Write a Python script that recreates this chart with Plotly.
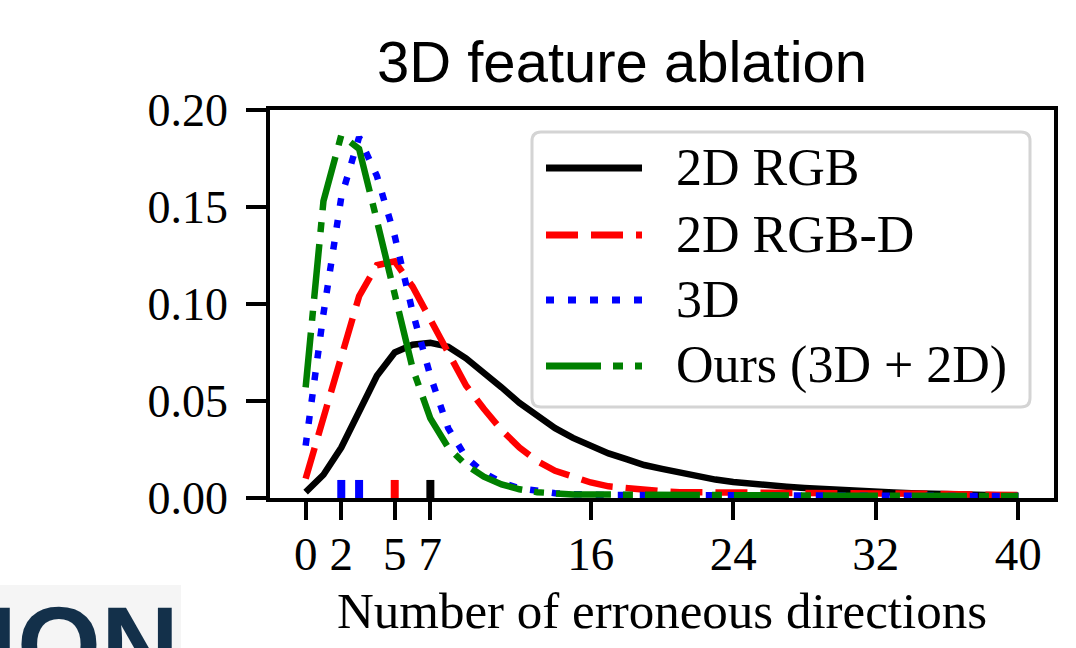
import plotly.graph_objects as go

# ---------------- data ----------------
x_vals = list(range(41))

rgb_2d = [0.003, 0.012, 0.026, 0.045, 0.063, 0.075, 0.079, 0.080, 0.078, 0.072,
          0.065, 0.057, 0.049, 0.042, 0.036, 0.031, 0.027, 0.023, 0.020, 0.017,
          0.015, 0.013, 0.011, 0.0095, 0.0082, 0.0072, 0.0064, 0.0058, 0.0052, 0.0046,
          0.0041, 0.0036, 0.0032, 0.0028, 0.0025, 0.0022, 0.0019, 0.0017, 0.0015, 0.0013,
          0.0012]

rgbd_2d = [0.010, 0.042, 0.075, 0.104, 0.120, 0.122, 0.109, 0.092, 0.074, 0.058,
           0.046, 0.035, 0.026, 0.019, 0.014, 0.011, 0.008, 0.006, 0.005, 0.004,
           0.0035, 0.003, 0.003, 0.003, 0.003, 0.003, 0.003, 0.003, 0.003, 0.003,
           0.003, 0.0028, 0.0026, 0.0025, 0.0024, 0.0022, 0.002, 0.0019, 0.0018, 0.0016,
           0.0015]

feat_3d = [0.027, 0.095, 0.155, 0.186, 0.166, 0.135, 0.096, 0.063, 0.036, 0.021,
           0.013, 0.008, 0.005, 0.0035, 0.0025, 0.002, 0.0015, 0.0015, 0.0015, 0.0015,
           0.0015, 0.0015, 0.0014, 0.0014, 0.0014, 0.0013, 0.0013, 0.0013, 0.0012, 0.0012,
           0.0012, 0.0012, 0.0011, 0.0011, 0.0011, 0.0011, 0.001, 0.001, 0.001, 0.001,
           0.001]

ours = [0.057, 0.153, 0.187, 0.180, 0.143, 0.105, 0.067, 0.041, 0.026, 0.017,
        0.011, 0.007, 0.0045, 0.003, 0.0022, 0.0018, 0.0018, 0.0017, 0.0017, 0.0016,
        0.0016, 0.0015, 0.0015, 0.0015, 0.0014, 0.0014, 0.0014, 0.0013, 0.0013, 0.0013,
        0.0012, 0.0012, 0.0012, 0.0011, 0.0011, 0.0011, 0.001, 0.001, 0.001, 0.001,
        0.001]

series_names = ["2D RGB", "2D RGB-D", "3D", "Ours (3D + 2D)"]
series_values = [rgb_2d, rgbd_2d, feat_3d, ours]

median_x = [2, 3, 5, 7]
median_height = 0.0093

x_ticks = [0, 2, 5, 7, 16, 24, 32, 40]
y_ticks = [0.0, 0.05, 0.10, 0.15, 0.20]
y_ticktext = ["0.00", "0.05", "0.10", "0.15", "0.20"]

title_text = "3D feature ablation"
x_title = "Number of erroneous directions"
corner_text = "ION"

# ---------------- styles ----------------
colors = ["#000000", "#ff0000", "#0000ff", "#008000"]
dashes = ["solid", "32px,13px", "8px,14px", "55px,12px,10px,12px"]
median_colors = ["#0000ff", "#0000ff", "#ff0000", "#000000"]
SERIF = "Liberation Serif, Times New Roman, serif"
SANS = "Liberation Sans, Arial, sans-serif"

W, H = 1076, 648
L, R, T, B = 270, 1054, 110, 498  # plot area in pixels


def px(xpix):
    return (xpix - L) / (R - L)


def py(ypix):
    return (B - ypix) / (B - T)


fig = go.Figure()

for name, vals, c, d in zip(series_names, series_values, colors, dashes):
    fig.add_trace(go.Scatter(x=x_vals, y=vals, mode="lines", name=name,
                             line=dict(color=c, width=6.5, dash=d),
                             showlegend=False, hoverinfo="skip"))

for mx, mc in zip(median_x, median_colors):
    fig.add_trace(go.Scatter(x=[mx, mx], y=[0, median_height], mode="lines",
                             line=dict(color=mc, width=8), showlegend=False,
                             hoverinfo="skip"))

shapes = []
annotations = []

# legend box (rounded)
bx0, bx1, by0, by1 = 532, 1030, 132, 407
r = 9
rx = r / (R - L)
ry = r / (B - T)
X0, X1, Y0, Y1 = px(bx0), px(bx1), py(by1), py(by0)
path = (f"M{X0+rx},{Y0} L{X1-rx},{Y0} Q{X1},{Y0} {X1},{Y0+ry} "
        f"L{X1},{Y1-ry} Q{X1},{Y1} {X1-rx},{Y1} L{X0+rx},{Y1} "
        f"Q{X0},{Y1} {X0},{Y1-ry} L{X0},{Y0+ry} Q{X0},{Y0} {X0+rx},{Y0} Z")
shapes.append(dict(type="path", xref="paper", yref="paper", path=path,
                   fillcolor="rgba(255,255,255,0.85)",
                   line=dict(color="#d4d4d4", width=3), layer="above"))

row_y = [168, 235, 300, 366]
for name, c, d, ry_ in zip(series_names, colors, dashes, row_y):
    shapes.append(dict(type="line", xref="paper", yref="paper",
                       x0=px(546), x1=px(642), y0=py(ry_), y1=py(ry_),
                       line=dict(color=c, width=7, dash=d), layer="above"))
    annotations.append(dict(x=px(674), y=py(ry_ - 1), xref="paper", yref="paper",
                            text=name, showarrow=False, xanchor="left",
                            yanchor="middle",
                            font=dict(family=SERIF, size=52, color="black")))

# title
annotations.append(dict(x=px(622), y=py(61), xref="paper", yref="paper",
                        text=title_text, showarrow=False, xanchor="center",
                        yanchor="middle",
                        font=dict(family=SANS, size=58, color="black")))

# corner logo fragment
shapes.append(dict(type="rect", xref="paper", yref="paper",
                   x0=px(-5), x1=px(181), y0=py(660), y1=py(585),
                   fillcolor="#f5f5f5", line=dict(width=0), layer="below"))
annotations.append(dict(x=px(181), y=py(582), xref="paper", yref="paper",
                        text=f"<b>{corner_text}</b>", showarrow=False,
                        xanchor="right", yanchor="top",
                        font=dict(family=SANS, size=108, color="#13304a")))

fig.update_layout(
    width=W, height=H,
    margin=dict(l=L, r=W - R, t=T, b=H - B, pad=0),
    paper_bgcolor="white", plot_bgcolor="white",
    shapes=shapes, annotations=annotations,
    xaxis=dict(range=[-2, 42], tickvals=x_ticks, ticks="outside", ticklen=18,
               tickwidth=3.5, tickcolor="black", showline=True, linewidth=3.5,
               linecolor="black", mirror=True, showgrid=False, zeroline=False,
               ticklabelstandoff=-6,
               tickfont=dict(family=SERIF, size=47, color="black"),
               title=dict(text=x_title, standoff=14,
                          font=dict(family=SERIF, size=51, color="black"))),
    yaxis=dict(range=[0, 0.2], tickvals=y_ticks, ticktext=y_ticktext,
               ticks="outside", ticklen=20, tickwidth=3.5, tickcolor="black",
               showline=True, linewidth=3.5, linecolor="black", mirror=True,
               showgrid=False, zeroline=False, ticklabelstandoff=9,
               tickfont=dict(family=SERIF, size=46, color="black")),
)

fig.write_html("out.html", config={"displayModeBar": False},
               post_script="document.body.style.margin='0';document.body.style.padding='0';")
